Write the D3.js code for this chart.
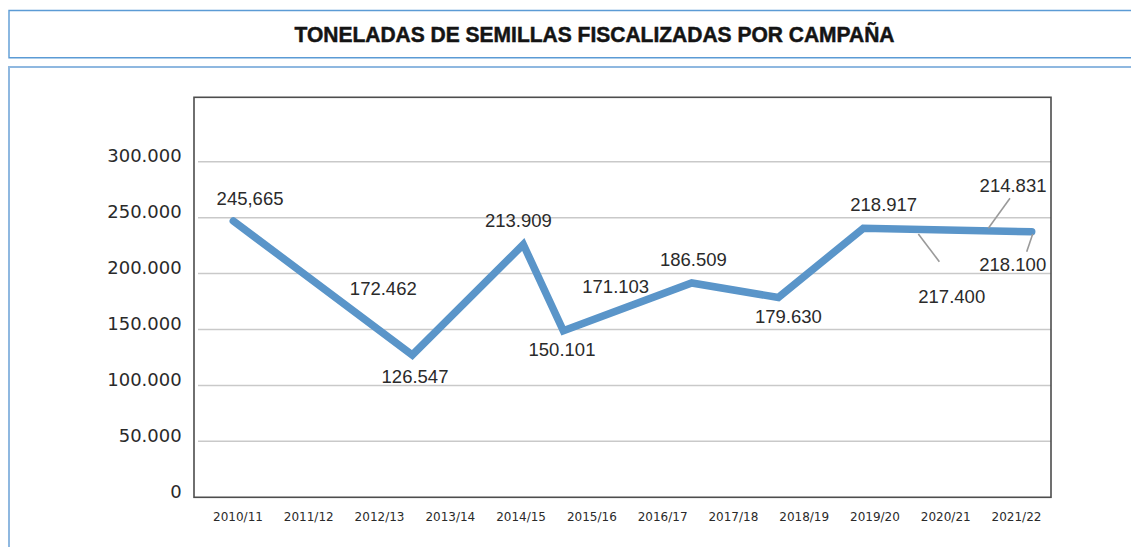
<!DOCTYPE html>
<html>
<head>
<meta charset="utf-8">
<script src="https://cdn.jsdelivr.net/npm/d3@7"></script>
<style>
  html, body { margin: 0; padding: 0; background: #fff; }
  svg { display: block; }
</style>
</head>
<body>
<svg id="chart" width="1131" height="547"></svg>
<script>
// ---------- DATA ----------
const title = "TONELADAS DE SEMILLAS FISCALIZADAS POR CAMPAÑA";
const categories = ["2010/11","2011/12","2012/13","2013/14","2014/15","2015/16",
                    "2016/17","2017/18","2018/19","2019/20","2020/21","2021/22"];
const yTicks = [0, 50000, 100000, 150000, 200000, 250000, 300000];
// line vertices as drawn (position along the campaign axis, in category units; value in tonnes)
const linePos    = [-0.066, 2.463, 4.031, 4.597, 6.411, 7.635, 8.836, 11.215];
const lineValues = [247000, 127200, 226000, 148900, 191600, 178600, 240500, 237400];
// data labels as printed (text, anchor position in category units, anchor value)
const labelText  = ["245,665","172.462","126.547","213.909","150.101","171.103",
                    "186.509","179.630","218.917","214.831","217.400","218.100"];
const labelPos   = [0.170, 2.053, 2.501, 3.961, 4.578, 5.337, 6.434, 7.776, 9.124, 10.951, 10.085, 10.947];
const labelValue = [261600, 180900, 102500, 242000, 126400, 183000, 206800, 155500, 256000, 273300, 173400, 202600];
// leader lines: [pos1, value1, pos2, value2]
const leaderFrom = [[10.908, 267300], [9.613, 235400], [11.229, 235400]];
const leaderTo   = [[10.602, 240500], [9.910, 210600], [11.144, 219500]];

// ---------- LAYOUT ----------
const svg = d3.select("#chart");
const plot = { left: 194, right: 1051, top: 97.3, bottom: 497.3 };

const x = d3.scaleLinear().domain([0, 11]).range([238, 1016.5]);
const y = d3.scaleLinear().domain([0, 357560]).range([plot.bottom, plot.top]);

const blue = "#5b9bd5";

// title box
svg.append("path")
  .attr("d", `M1131,10.5 H9 V57.8 H1131`)
  .attr("fill", "none").attr("stroke", blue).attr("stroke-width", 1.4);
svg.append("text")
  .attr("x", 594.5).attr("y", 41.8)
  .attr("text-anchor", "middle")
  .attr("font-family", "Liberation Sans, Arial, sans-serif")
  .attr("font-weight", "bold")
  .attr("font-size", 22.5)
  .attr("fill", "#141414")
  .attr("stroke", "#141414").attr("stroke-width", 0.5)
  .attr("textLength", 600).attr("lengthAdjust", "spacingAndGlyphs")
  .text(title);

// chart box
svg.append("path")
  .attr("d", `M1131,67 H9 V547`)
  .attr("fill", "none").attr("stroke", "#8fb8e0").attr("stroke-width", 2);

// gridlines
const grid = svg.append("g");
grid.selectAll("line").data(yTicks.filter(d => d > 0)).join("line")
  .attr("x1", 198).attr("x2", plot.right)
  .attr("y1", d => y(d)).attr("y2", d => y(d))
  .attr("stroke", "#c9c9c9").attr("stroke-width", 1.5);

// y axis labels
const yAxis = d3.axisLeft(y).tickValues(yTicks).tickSize(0).tickPadding(0)
  .tickFormat(d => d3.format(",")(d).replace(/,/g, "."));
const gy = svg.append("g").attr("transform", `translate(181.7,0)`).call(yAxis);
gy.select(".domain").remove();
gy.selectAll("text")
  .attr("font-family", "DejaVu Sans, sans-serif")
  .attr("font-size", 18)
  .attr("fill", "#2a2a2a")
  .attr("dy", 0);

// x axis labels
const gx = svg.append("g");
gx.selectAll("text").data(categories).join("text")
  .attr("x", (d, i) => x(i)).attr("y", 520.5)
  .attr("text-anchor", "middle")
  .attr("font-family", "DejaVu Sans, sans-serif")
  .attr("font-size", 12)
  .attr("fill", "#2a2a2a")
  .text(d => d);

// plot border
svg.append("rect")
  .attr("x", plot.left).attr("y", plot.top)
  .attr("width", plot.right - plot.left).attr("height", plot.bottom - plot.top)
  .attr("fill", "none").attr("stroke", "#4d4d4d").attr("stroke-width", 1.6);

// line
const linePts = linePos.map((p, i) => [p, lineValues[i]]);
svg.append("path")
  .datum(linePts)
  .attr("d", d3.line().x(d => x(d[0])).y(d => y(d[1])))
  .attr("fill", "none")
  .attr("stroke", "#5a95c9")
  .attr("stroke-width", 7.5)
  .attr("stroke-linejoin", "miter")
  .attr("stroke-linecap", "round");

// leader lines
svg.append("g").selectAll("line").data(leaderFrom).join("line")
  .attr("x1", d => x(d[0])).attr("y1", d => y(d[1]))
  .attr("x2", (d, i) => x(leaderTo[i][0])).attr("y2", (d, i) => y(leaderTo[i][1]))
  .attr("stroke", "#9a9a9a").attr("stroke-width", 1.6);

// data labels
svg.append("g").selectAll("text").data(labelText).join("text")
  .attr("x", (d, i) => x(labelPos[i])).attr("y", (d, i) => y(labelValue[i]))
  .attr("text-anchor", "middle")
  .attr("font-family", "Liberation Sans, Arial, sans-serif")
  .attr("font-size", 18.5)
  .attr("fill", "#2a2a2a")
  .text(d => d);
</script>
</body>
</html>
